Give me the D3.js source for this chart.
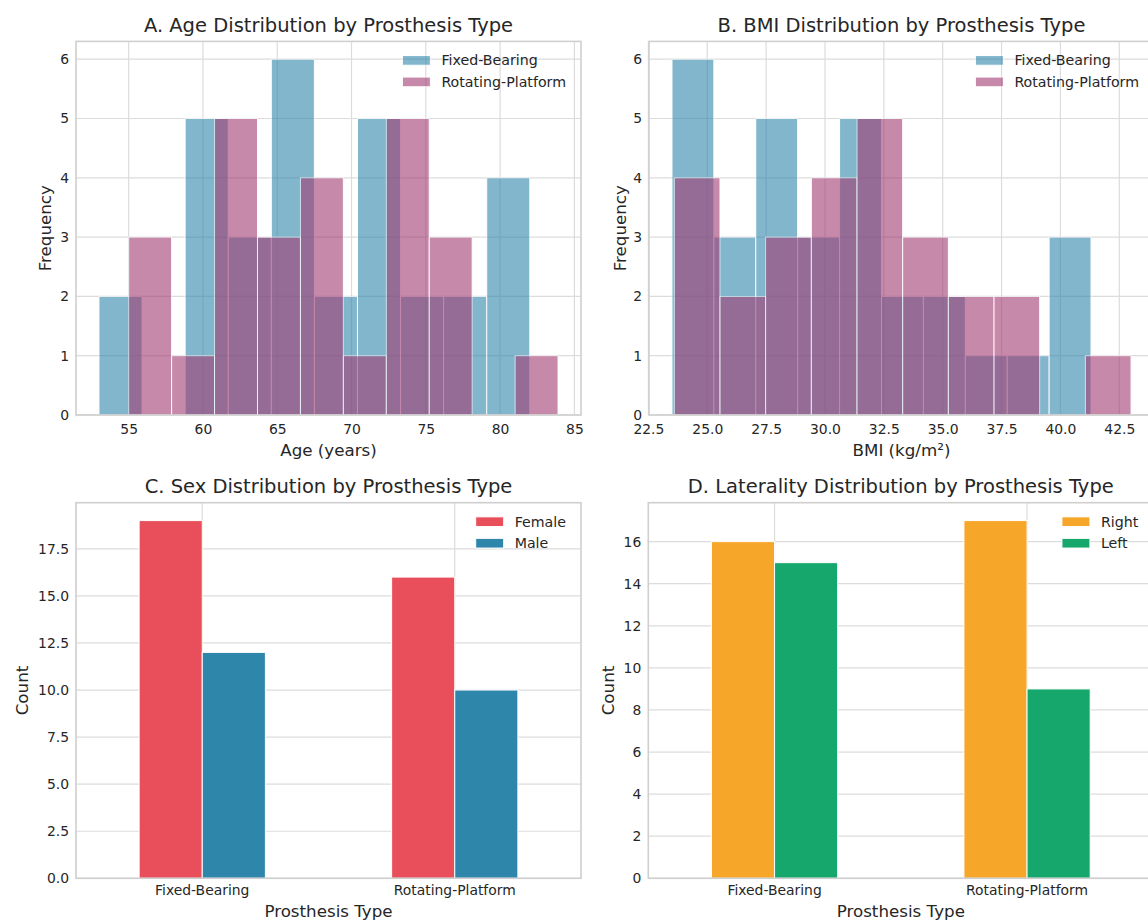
<!DOCTYPE html>
<html>
<head>
<meta charset="utf-8">
<script src="https://cdn.jsdelivr.net/npm/d3@7"></script>
<style>
  body { margin: 0; background: #fff; }
  svg { display: block; font-family: "DejaVu Sans", sans-serif; }
</style>
</head>
<body>
<svg id="chart" width="1148" height="923"></svg>
<script>
// ---- data ----
const prosthesisTypes = ["Fixed-Bearing", "Rotating-Platform"];

// histograms: [first edge, last edge] and counts for 10 equal bins
const ageFixedRange = [53.0, 82.0];
const ageFixedCounts = [2, 0, 5, 3, 6, 2, 5, 2, 2, 4];
const ageRotRange = [55.0, 83.9];
const ageRotCounts = [3, 1, 5, 3, 4, 1, 5, 3, 0, 1];

const bmiFixedRange = [23.5, 41.3];
const bmiFixedCounts = [6, 3, 5, 3, 5, 2, 2, 1, 1, 3];
const bmiRotRange = [23.6, 43.0];
const bmiRotCounts = [4, 2, 3, 4, 5, 3, 2, 2, 0, 1];

const sexFemale = [19, 16];
const sexMale = [12, 10];
const lateralityRight = [16, 17];
const lateralityLeft = [15, 9];

const ageTicks = [55, 60, 65, 70, 75, 80, 85];
const bmiTicks = [22.5, 25, 27.5, 30, 32.5, 35, 37.5, 40, 42.5];
const freqTicks = [0, 1, 2, 3, 4, 5, 6];
const sexTicks = [0, 2.5, 5, 7.5, 10, 12.5, 15, 17.5];
const latTicks = [0, 2, 4, 6, 8, 10, 12, 14, 16];

// ---- style ----
const font = "'DejaVu Sans', sans-serif";
const textColor = "#262626";
const gridColor = "#dcdcdc";
const spineColor = "#cfcfcf";
const fixedColor = "#2E86AB";
const rotColor = "#A23B72";
const femaleColor = "#E84F5A";
const maleColor = "#2E86AB";
const rightColor = "#F6A629";
const leftColor = "#15A76C";
const tickSize = 13.9, labelSize = 16.7, titleSize = 19.5, legendSize = 14.2;

const svg = d3.select("#chart");

function histBins(range, counts) {
  const w = (range[1] - range[0]) / counts.length;
  return counts.map((c, i) => ({ x0: range[0] + i * w, x1: range[0] + (i + 1) * w, count: c }));
}

function panel(left, top, width, height) {
  const g = svg.append("g").attr("transform", `translate(${left},${top})`);
  return { g, width, height };
}

function grid(p, xs, ys) {
  const gg = p.g.append("g");
  gg.selectAll(".vg").data(xs).join("line")
    .attr("x1", d => d).attr("x2", d => d)
    .attr("y1", 0).attr("y2", p.height)
    .attr("stroke", gridColor).attr("stroke-width", 1.2);
  gg.selectAll(".hg").data(ys).join("line")
    .attr("x1", 0).attr("x2", p.width)
    .attr("y1", d => d).attr("y2", d => d)
    .attr("stroke", gridColor).attr("stroke-width", 1.2);
}

function styleAxis(sel) {
  sel.select(".domain").remove();
  sel.selectAll(".tick line").remove();
  sel.attr("font-size", tickSize).attr("font-family", font);
  sel.selectAll("text").attr("fill", textColor);
}

function axes(p, xAxis, yAxis) {
  p.g.append("g").attr("transform", `translate(0,${p.height})`).call(xAxis).call(styleAxis);
  p.g.append("g").call(yAxis).call(styleAxis);
}

function spines(p) {
  p.g.append("rect")
    .attr("width", p.width).attr("height", p.height)
    .attr("fill", "none").attr("stroke", spineColor).attr("stroke-width", 1.6);
}

function texts(p, title, xLabel, yLabel, xLabelY, yLabelX) {
  p.g.append("text").attr("x", p.width / 2).attr("y", -9.6)
    .attr("text-anchor", "middle").attr("font-size", titleSize)
    .attr("fill", textColor).text(title);
  p.g.append("text").attr("x", p.width / 2).attr("y", p.height + xLabelY)
    .attr("text-anchor", "middle").attr("font-size", labelSize)
    .attr("fill", textColor).text(xLabel);
  p.g.append("text")
    .attr("transform", `translate(${yLabelX},${p.height / 2}) rotate(-90)`)
    .attr("dy", "0.35em")
    .attr("text-anchor", "middle").attr("font-size", labelSize)
    .attr("fill", textColor).text(yLabel);
}

function legend(p, items) {
  const lg = p.g.append("g");
  const t = lg.selectAll("text").data(items).join("text")
    .attr("font-size", legendSize).attr("fill", textColor)
    .attr("dy", "0.35em").text(d => d.label);
  const maxW = d3.max(t.nodes(), n => n.getComputedTextLength());
  const hx = p.width - 15 - maxW - 39;
  const rowY = i => 19 + i * 21.5;
  t.attr("x", hx + 39).attr("y", (d, i) => rowY(i));
  lg.selectAll("rect").data(items).join("rect")
    .attr("x", hx).attr("y", (d, i) => rowY(i) - 4.85)
    .attr("width", 28).attr("height", 9.7)
    .attr("fill", d => d.color).attr("opacity", d => d.opacity)
    .attr("stroke", "#fff").attr("stroke-width", 1);
}

function histPanel(p, fixedBins, rotBins, ticks, opt) {
  const lo = Math.min(fixedBins[0].x0, rotBins[0].x0);
  const hi = Math.max(fixedBins[fixedBins.length - 1].x1, rotBins[rotBins.length - 1].x1);
  const m = (hi - lo) * 0.05;
  const x = d3.scaleLinear().domain([lo - m, hi + m]).range([0, p.width]);
  const y = d3.scaleLinear().domain([0, 6.3]).range([p.height, 0]);

  grid(p, ticks.map(x), freqTicks.map(y));

  [[fixedBins, fixedColor], [rotBins, rotColor]].forEach(([bins, color]) => {
    p.g.append("g").selectAll("rect").data(bins.filter(d => d.count > 0)).join("rect")
      .attr("x", d => x(d.x0)).attr("width", d => x(d.x1) - x(d.x0))
      .attr("y", d => y(d.count)).attr("height", d => y(0) - y(d.count))
      .attr("fill", color).attr("stroke", "#fff").attr("stroke-width", 1)
      .attr("opacity", 0.6);
  });

  axes(p,
    d3.axisBottom(x).tickValues(ticks).tickSize(0).tickPadding(8.7).tickFormat(opt.fmt),
    d3.axisLeft(y).tickValues(freqTicks).tickSize(0).tickPadding(7).tickFormat(d3.format("d")));
  spines(p);
  legend(p, [
    { label: "Fixed-Bearing", color: fixedColor, opacity: 0.6 },
    { label: "Rotating-Platform", color: rotColor, opacity: 0.6 }
  ]);
  texts(p, opt.title, opt.xLabel, "Frequency", 41, opt.yLabelX);
}

function barPanel(p, first, second, ticks, opt) {
  const x = d3.scaleBand().domain(prosthesisTypes).range([0, p.width])
    .paddingInner(0.5).paddingOuter(0.25);
  const y = d3.scaleLinear().domain([0, opt.yMax]).range([p.height, 0]);

  grid(p, prosthesisTypes.map(c => x(c) + x.bandwidth() / 2), ticks.map(y));

  const half = x.bandwidth() / 2;
  [[first, opt.colors[0], 0], [second, opt.colors[1], 1]].forEach(([vals, color, k]) => {
    p.g.append("g").selectAll("rect").data(vals).join("rect")
      .attr("x", (d, i) => x(prosthesisTypes[i]) + k * half)
      .attr("width", half)
      .attr("y", d => y(d)).attr("height", d => y(0) - y(d))
      .attr("fill", color).attr("stroke", "#fff").attr("stroke-width", 1);
  });

  axes(p,
    d3.axisBottom(x).tickSize(0).tickPadding(7),
    d3.axisLeft(y).tickValues(ticks).tickSize(0).tickPadding(7).tickFormat(opt.yFmt));
  spines(p);
  legend(p, [
    { label: opt.labels[0], color: opt.colors[0], opacity: 1 },
    { label: opt.labels[1], color: opt.colors[1], opacity: 1 }
  ]);
  texts(p, opt.title, "Prosthesis Type", "Count", 39, opt.yLabelX);
}

histPanel(panel(76, 41.4, 505, 373.6),
  histBins(ageFixedRange, ageFixedCounts), histBins(ageRotRange, ageRotCounts), ageTicks,
  { title: "A. Age Distribution by Prosthesis Type", xLabel: "Age (years)", fmt: d3.format("d"), yLabelX: -31 });

histPanel(panel(649, 41.4, 505, 373.6),
  histBins(bmiFixedRange, bmiFixedCounts), histBins(bmiRotRange, bmiRotCounts), bmiTicks,
  { title: "B. BMI Distribution by Prosthesis Type", xLabel: "BMI (kg/m²)", fmt: d3.format(".1f"), yLabelX: -29 });

barPanel(panel(76, 502.7, 505, 375.6), sexFemale, sexMale, sexTicks,
  { title: "C. Sex Distribution by Prosthesis Type", yMax: 19 * 1.05, yFmt: d3.format(".1f"),
    labels: ["Female", "Male"], colors: [femaleColor, maleColor], yLabelX: -54 });

barPanel(panel(648.3, 502.7, 505, 375.6), lateralityRight, lateralityLeft, latTicks,
  { title: "D. Laterality Distribution by Prosthesis Type", yMax: 17 * 1.05, yFmt: d3.format("d"),
    labels: ["Right", "Left"], colors: [rightColor, leftColor], yLabelX: -40 });
</script>
</body>
</html>
